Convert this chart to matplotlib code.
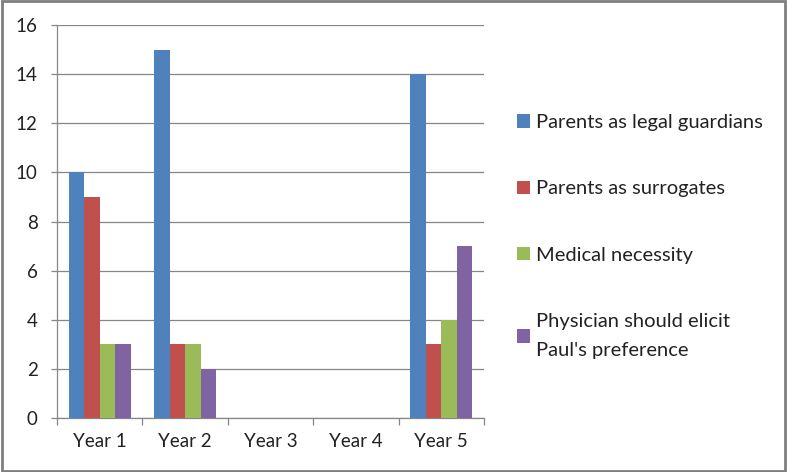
import matplotlib.pyplot as plt
import numpy as np
from matplotlib.patches import Rectangle

plt.rcParams['font.family'] = ['Lato', 'DejaVu Sans']

years = ['Year 1', 'Year 2', 'Year 3', 'Year 4', 'Year 5']
legal_guardians = [10, 15, 0, 0, 14]
surrogates = [9, 3, 0, 0, 3]
medical_necessity = [3, 3, 0, 0, 4]
pauls_preference = [3, 2, 0, 0, 7]

series = [
    ('Parents as legal guardians', legal_guardians, '#4F81BD'),
    ('Parents as surrogates', surrogates, '#C0504D'),
    ('Medical necessity', medical_necessity, '#9BBB59'),
    ("Physician should elicit\nPaul's preference", pauls_preference, '#8064A2'),
]

fig = plt.figure(figsize=(7.87, 4.72), dpi=100)
ax = fig.add_axes([0.0724, 0.1144, 0.5426, 0.8326])

x = np.arange(len(years))
w = 1 / 5.5  # Excel gap width 150%
for i, (label, vals, color) in enumerate(series):
    ax.bar(x + (i - 1.5) * w, vals, width=w, color=color, label=label, zorder=3)

ax.set_xlim(-0.5, len(years) - 0.5)
ax.set_ylim(0, 16)
ax.set_yticks(range(0, 17, 2))
ax.set_xticks(x)
ax.set_xticklabels(years)
ax.set_xticks(np.arange(-0.5, len(years)), minor=True)

gray = '#868686'
fs = 13.5
ax.grid(axis='y', color=gray, linewidth=0.9, zorder=0)
for s in ['top', 'right']:
    ax.spines[s].set_visible(False)
for s in ['left', 'bottom']:
    ax.spines[s].set_color(gray)
    ax.spines[s].set_linewidth(0.9)

ax.tick_params(axis='x', which='major', length=0, labelsize=fs, pad=11)
ax.tick_params(axis='x', which='minor', length=5, color=gray, width=0.9)
ax.tick_params(axis='y', length=4, color=gray, width=0.9, labelsize=fs, pad=10)
for t in ax.get_xticklabels() + ax.get_yticklabels():
    t.set_color('#222222')

leg = fig.legend(loc='center left', bbox_to_anchor=(0.657, 0.499), frameon=False,
                 fontsize=14.5, labelspacing=2.45, handlelength=0.65, handleheight=0.65,
                 handletextpad=0.3, borderpad=0, borderaxespad=0)
for t in leg.get_texts():
    t.set_color('#222222')
    t.set_linespacing(1.85)

fig.patches.append(Rectangle((0.002, 0.003), 0.996, 0.994, transform=fig.transFigure,
                             fill=False, edgecolor='#7F7F7F', linewidth=2))

fig.savefig('out.png', dpi=100)
